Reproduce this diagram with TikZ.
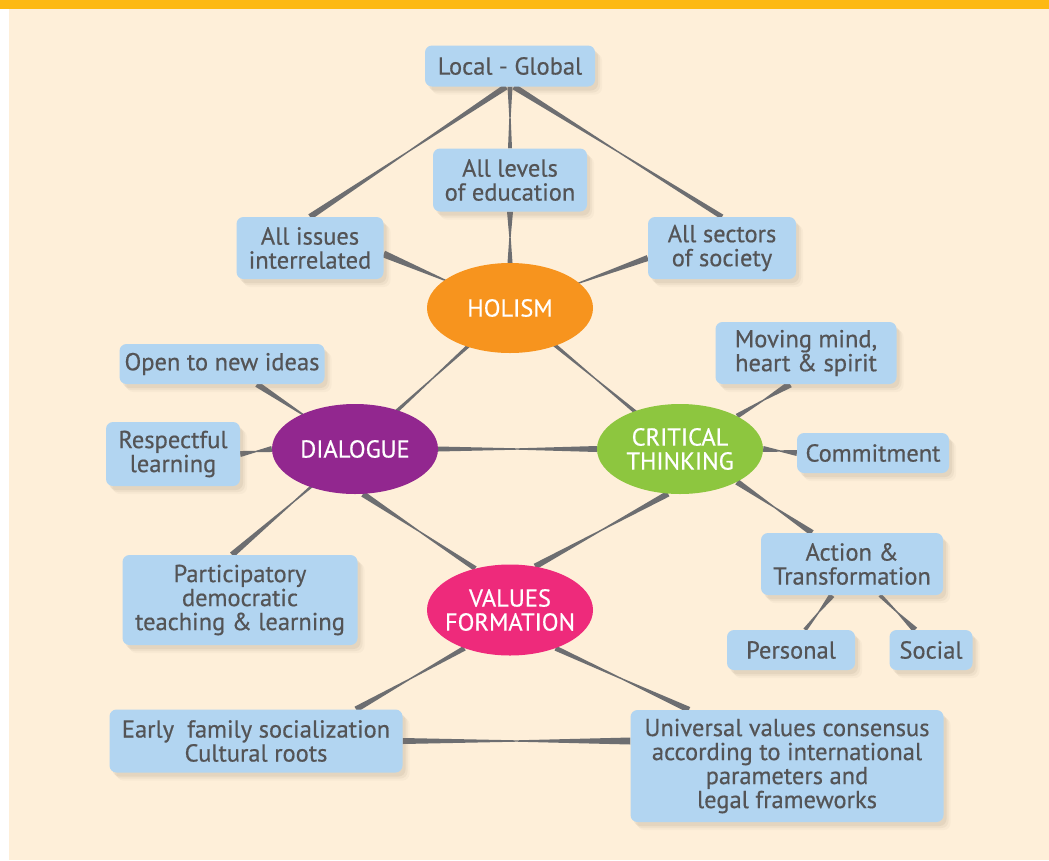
\documentclass[tikz,border=0pt]{standalone}
\usepackage{fontspec}
\setmainfont{PT Sans}[FakeBold=0.5]
\usetikzlibrary{calc,shapes.geometric,shadows}
\definecolor{bgc}{HTML}{FEEFD9}
\definecolor{barc}{HTML}{FDB913}
\definecolor{boxc}{HTML}{B2D5F1}
\definecolor{txtc}{HTML}{545456}
\definecolor{connc}{HTML}{6D6E71}
\definecolor{shc}{HTML}{8A7A66}
\definecolor{holc}{HTML}{F7941E}
\definecolor{diac}{HTML}{92278F}
\definecolor{critc}{HTML}{8DC63F}
\definecolor{valc}{HTML}{EE2A7B}
\pgfdeclarelayer{paper}\pgfdeclarelayer{back}\pgfsetlayers{paper,back,main}
\newcommand\tap[4]{%
  \path #1 coordinate (tA) #2 coordinate (tB);
  \fill[connc] ($(tA)!#3!90:(tB)$) -- ($(tA)!0.5!(tB)!0.7pt!90:(tB)$) --
    ($(tB)!#4!-90:(tA)$) -- ($(tB)!#4!90:(tA)$) --
    ($(tA)!0.5!(tB)!0.7pt!-90:(tB)$) -- ($(tA)!#3!-90:(tB)$) -- cycle;}
\tikzset{
  box/.style={fill=boxc, rounded corners=7pt, align=center, text=txtc,
    inner sep=2pt, font=\fontsize{24.5}{24}\selectfont,
    drop shadow={shadow xshift=7pt, shadow yshift=-8pt, opacity=0.05, fill=shc},
    drop shadow={shadow xshift=5pt, shadow yshift=-6pt, opacity=0.08, fill=shc},
    drop shadow={shadow xshift=3pt, shadow yshift=-4pt, opacity=0.10, fill=shc}},
  hub/.style={ellipse, minimum width=166pt, minimum height=90pt, inner sep=0pt},
  hubtext/.style={align=center, text=white, inner sep=0pt, font=\fontsize{24.5}{24}\selectfont}
}
\begin{document}
\begin{tikzpicture}[x=1pt,y=-1pt]
\useasboundingbox (0,0) rectangle (1049,860);
\begin{pgfonlayer}{paper}
\fill[white] (0,0) rectangle (1049,860);
\fill[bgc] (9,8.5) rectangle (1049,860);
\fill[barc] (0,0) rectangle (1049,8.5);
\end{pgfonlayer}

\node[box, minimum width=170pt, minimum height=41pt] (lg) at (510,66) {Local - Global};
\node[box, minimum width=154pt, minimum height=63pt] (levels) at (510,180) {All levels\\of education};
\node[box, minimum width=147pt, minimum height=62pt] (issues) at (310,248) {All issues\\interrelated};
\node[box, minimum width=148pt, minimum height=62pt] (sectors) at (722,248) {All sectors\\of society};
\node[hub, fill=holc, label={[hubtext]center:HOLISM}] (holism) at (510,308) {};
\node[box, minimum width=181pt, minimum height=62pt] (moving) at (806,353) {Moving mind,\\heart \& spirit};
\node[box, minimum width=205pt, minimum height=40pt] (open) at (222,364) {Open to new ideas};
\node[box, minimum width=134pt, minimum height=64pt] (resp) at (173,454) {Respectful\\learning};
\node[hub, fill=diac, label={[hubtext]center:DIALOGUE}] (dialogue) at (355,449) {};
\node[hub, fill=critc, label={[hubtext]center:CRITICAL\\THINKING}] (critical) at (680,449) {};
\node[box, minimum width=152pt, minimum height=40pt] (commit) at (873,453) {Commitment};
\node[box, minimum width=182pt, minimum height=62pt] (action) at (852,564) {Action \&\\Transformation};
\node[box, minimum width=128pt, minimum height=40pt] (personal) at (791,650) {Personal};
\node[box, minimum width=83pt, minimum height=40pt] (social) at (931,650) {Social};
\node[box, minimum width=235pt, minimum height=90pt] (part) at (240,600) {Participatory\\democratic\\teaching \& learning};
\node[hub, fill=valc, minimum height=91pt, label={[hubtext]center:VALUES\\FORMATION}] (values) at (510,610) {};
\node[box, minimum width=293pt, minimum height=63pt] (early) at (256,741) {Early~ family socialization\\Cultural roots};
\node[box, minimum width=313pt, minimum height=112pt] (univ) at (787,766) {Universal values consensus\\according to international\\parameters and\\legal frameworks};

\begin{pgfonlayer}{back}
\tap{([xshift=-4pt]lg.south)}{(issues.north)}{3pt}{3pt}
\tap{(lg.south)}{(levels.north)}{2.5pt}{2pt}
\tap{([xshift=4pt]lg.south)}{(sectors.north)}{3pt}{2.5pt}
\tap{(levels.south)}{(holism.north)}{3pt}{2.5pt}
\tap{([yshift=-6pt]issues.east)}{(holism)}{3.5pt}{2.5pt}
\tap{([yshift=-10pt]sectors.west)}{(holism)}{3pt}{2pt}
\tap{(holism)}{(dialogue)}{3pt}{3pt}
\tap{(holism)}{(critical)}{3pt}{3pt}
\tap{(dialogue.east)}{(critical.west)}{2.5pt}{3pt}
\tap{([xshift=35pt]open.south)}{(dialogue)}{3pt}{3pt}
\tap{(resp.east)}{(dialogue.west)}{3pt}{3pt}
\tap{([xshift=-8pt]part.north)}{(dialogue)}{3pt}{3pt}
\tap{(dialogue.-80)}{(values.130)}{3pt}{2.5pt}
\tap{(critical.-105)}{(values.60)}{3pt}{3pt}
\tap{(critical.30)}{([xshift=-16pt]moving.south)}{2.5pt}{3.5pt}
\tap{(critical.east)}{(commit.west)}{3pt}{3pt}
\tap{(critical.-30)}{([xshift=-40pt]action.north)}{3pt}{3pt}
\tap{([xshift=-20pt]action.south)}{([xshift=14pt]personal.north)}{3pt}{2pt}
\tap{([xshift=28pt]action.south)}{([xshift=-16pt]social.north)}{2pt}{3pt}
\tap{(values.-140)}{([xshift=100pt]early.north)}{2.5pt}{3pt}
\tap{(values.-40)}{([xshift=-98pt]univ.north)}{2.5pt}{3pt}
\tap{(early.east)}{(early.east -| univ.west)}{3pt}{3.5pt}
\end{pgfonlayer}
\end{tikzpicture}
\end{document}
